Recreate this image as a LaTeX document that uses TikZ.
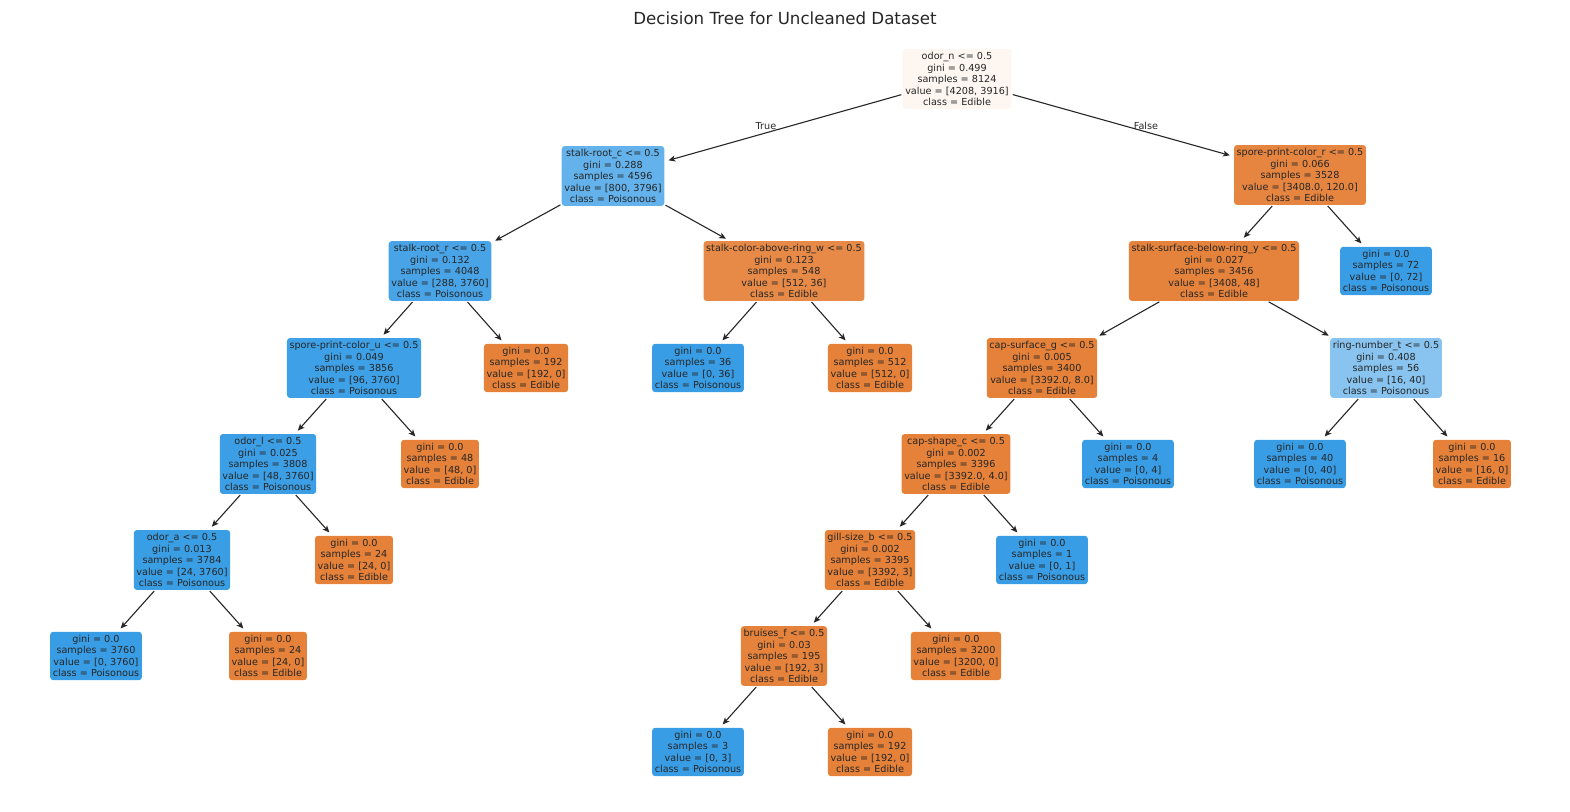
\documentclass[tikz,border=0pt]{standalone}
\usepackage{fontspec}
\setmainfont{DejaVu Sans}
\usetikzlibrary{arrows.meta}
\usepackage{xcolor}
\definecolor{edible}{RGB}{229,129,57}
\definecolor{poison}{RGB}{57,157,229}
\definecolor{rootc}{RGB}{253,246,241}
\definecolor{blueA}{RGB}{99,178,235}
\definecolor{blueB}{RGB}{72,164,231}
\definecolor{blueC}{RGB}{62,160,230}
\definecolor{blueD}{RGB}{60,158,229}
\definecolor{blueE}{RGB}{58,158,229}
\definecolor{blueF}{RGB}{136,196,239}
\definecolor{orangeA}{RGB}{230,133,64}
\definecolor{orangeB}{RGB}{231,138,71}
\definecolor{orangeC}{RGB}{229,131,60}
\definecolor{ink}{RGB}{38,38,38}
\tikzset{
    tree/.style={
        rectangle,
        rounded corners=1.5pt,
        align=center,
        inner xsep=1.3pt,
        inner ysep=1.6pt,
        text=ink,
        font=\fontsize{4.83}{5.75}\selectfont
    },
    branch/.style={
        draw=ink,
        line width=0.55pt,
        -{Stealth[length=3.4pt,width=3pt,inset=0.9pt]},
        shorten <=0.5pt,
        shorten >=2pt
    },
    x=0.5pt,
    y=-0.5pt
}
\begin{document}
\begin{tikzpicture}
    \useasboundingbox (0,0) rectangle (1570,812);
    % title
    \node[text=ink,font=\fontsize{8.33}{10}\selectfont] (title) at (785,18)
        {Decision Tree for Uncleaned Dataset};
    % depth 0
    \node[tree,fill=rootc] (n0) at (957,79)
        {odor\_n <= 0.5\\gini = 0.499\\samples = 8124\\value = [4208, 3916]\\class = Edible};
    % depth 1
    \node[tree,fill=blueA] (n1) at (613,176)
        {stalk-root\_c <= 0.5\\gini = 0.288\\samples = 4596\\value = [800, 3796]\\class = Poisonous};
    \node[tree,fill=orangeA] (n2) at (1300,175)
        {spore-print-color\_r <= 0.5\\gini = 0.066\\samples = 3528\\value = [3408.0, 120.0]\\class = Edible};
    % depth 2
    \node[tree,fill=blueB] (n3) at (440,271)
        {stalk-root\_r <= 0.5\\gini = 0.132\\samples = 4048\\value = [288, 3760]\\class = Poisonous};
    \node[tree,fill=orangeB] (n4) at (784,271)
        {stalk-color-above-ring\_w <= 0.5\\gini = 0.123\\samples = 548\\value = [512, 36]\\class = Edible};
    \node[tree,fill=orangeC] (n5) at (1214,271)
        {stalk-surface-below-ring\_y <= 0.5\\gini = 0.027\\samples = 3456\\value = [3408, 48]\\class = Edible};
    \node[tree,fill=poison] (n6) at (1386,271)
        {gini = 0.0\\samples = 72\\value = [0, 72]\\class = Poisonous};
    % depth 3
    \node[tree,fill=blueC] (n7) at (354,368)
        {spore-print-color\_u <= 0.5\\gini = 0.049\\samples = 3856\\value = [96, 3760]\\class = Poisonous};
    \node[tree,fill=edible] (n8) at (526,368)
        {gini = 0.0\\samples = 192\\value = [192, 0]\\class = Edible};
    \node[tree,fill=poison] (n9) at (698,368)
        {gini = 0.0\\samples = 36\\value = [0, 36]\\class = Poisonous};
    \node[tree,fill=edible] (n10) at (870,368)
        {gini = 0.0\\samples = 512\\value = [512, 0]\\class = Edible};
    \node[tree,fill=edible] (n11) at (1042,368)
        {cap-surface\_g <= 0.5\\gini = 0.005\\samples = 3400\\value = [3392.0, 8.0]\\class = Edible};
    \node[tree,fill=blueF] (n12) at (1386,368)
        {ring-number\_t <= 0.5\\gini = 0.408\\samples = 56\\value = [16, 40]\\class = Poisonous};
    % depth 4
    \node[tree,fill=blueD] (n13) at (268,464)
        {odor\_l <= 0.5\\gini = 0.025\\samples = 3808\\value = [48, 3760]\\class = Poisonous};
    \node[tree,fill=edible] (n14) at (440,464)
        {gini = 0.0\\samples = 48\\value = [48, 0]\\class = Edible};
    \node[tree,fill=edible] (n15) at (956,464)
        {cap-shape\_c <= 0.5\\gini = 0.002\\samples = 3396\\value = [3392.0, 4.0]\\class = Edible};
    \node[tree,fill=poison] (n16) at (1128,464)
        {gini = 0.0\\samples = 4\\value = [0, 4]\\class = Poisonous};
    \node[tree,fill=poison] (n17) at (1300,464)
        {gini = 0.0\\samples = 40\\value = [0, 40]\\class = Poisonous};
    \node[tree,fill=edible] (n18) at (1472,464)
        {gini = 0.0\\samples = 16\\value = [16, 0]\\class = Edible};
    % depth 5
    \node[tree,fill=blueE] (n19) at (182,560)
        {odor\_a <= 0.5\\gini = 0.013\\samples = 3784\\value = [24, 3760]\\class = Poisonous};
    \node[tree,fill=edible] (n20) at (354,560)
        {gini = 0.0\\samples = 24\\value = [24, 0]\\class = Edible};
    \node[tree,fill=edible] (n21) at (870,560)
        {gill-size\_b <= 0.5\\gini = 0.002\\samples = 3395\\value = [3392, 3]\\class = Edible};
    \node[tree,fill=poison] (n22) at (1042,560)
        {gini = 0.0\\samples = 1\\value = [0, 1]\\class = Poisonous};
    % depth 6
    \node[tree,fill=poison] (n23) at (96,656)
        {gini = 0.0\\samples = 3760\\value = [0, 3760]\\class = Poisonous};
    \node[tree,fill=edible] (n24) at (268,656)
        {gini = 0.0\\samples = 24\\value = [24, 0]\\class = Edible};
    \node[tree,fill=orangeC] (n25) at (784,656)
        {bruises\_f <= 0.5\\gini = 0.03\\samples = 195\\value = [192, 3]\\class = Edible};
    \node[tree,fill=edible] (n26) at (956,656)
        {gini = 0.0\\samples = 3200\\value = [3200, 0]\\class = Edible};
    % depth 7
    \node[tree,fill=poison] (n27) at (698,752)
        {gini = 0.0\\samples = 3\\value = [0, 3]\\class = Poisonous};
    \node[tree,fill=edible] (n28) at (870,752)
        {gini = 0.0\\samples = 192\\value = [192, 0]\\class = Edible};
    % draw branches
    \foreach \p/\c in {n0/n1,n0/n2,n1/n3,n1/n4,n2/n5,n2/n6,n3/n7,n3/n8,
        n4/n9,n4/n10,n5/n11,n5/n12,n7/n13,n7/n14,n11/n15,n11/n16,n12/n17,
        n12/n18,n13/n19,n13/n20,n15/n21,n15/n22,n19/n23,n19/n24,n21/n25,
        n21/n26,n25/n27,n25/n28}
        \draw[branch] (\p) -- (\c);
    % split labels
    \node[tree,inner sep=0pt] (yes) at (766,126) {True};
    \node[tree,inner sep=0pt] (no) at (1146,126) {False};
\end{tikzpicture}
\end{document}
